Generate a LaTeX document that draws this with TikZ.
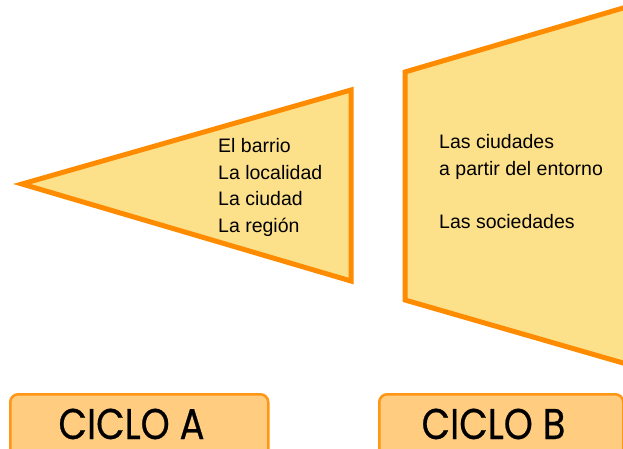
\documentclass[tikz,border=0pt]{standalone}
\usepackage{fontspec}
\setmainfont{Liberation Sans}
\newfontfamily\ciclofont{Poppins}[FakeBold=0.6]
\usepackage{graphicx}
\usetikzlibrary{positioning}

\definecolor{embudoFill}{RGB}{253,225,138}
\definecolor{embudoLine}{RGB}{255,140,0}
\definecolor{cicloFill}{RGB}{255,204,128}
\definecolor{cicloLine}{RGB}{255,150,20}

\begin{document}
\begin{tikzpicture}[
    x=1pt, y=-1pt,
    embudo/.style={draw=embudoLine, fill=embudoFill, line width=5pt, line join=miter},
    lista/.style={align=left, inner sep=0pt, anchor=north west, font=\fontsize{19.5}{26.7}\selectfont},
    ciclo/.style={rectangle, draw=cicloLine, fill=cicloFill, line width=2.5pt, rounded corners=8pt, anchor=north west, inner sep=0pt},
    ciclotxt/.style={inner sep=0pt, anchor=base, text depth=0pt, font=\ciclofont\fontsize{43}{43}\selectfont}
]
    \useasboundingbox (0,0) rectangle (623,449);

    % embudo del ciclo A
    \draw[embudo] (22,184) -- (351,90) -- (351,281) -- cycle;
    % embudo del ciclo B
    \draw[embudo] (630,6) -- (405,72) -- (405,300) -- (630,365);

    \node[lista] (temasA) at (218,138) {El barrio\\La localidad\\La ciudad\\La región};
    \node[lista] (temasB) at (439,134) {Las ciudades\\a partir del entorno\\[26.7pt]Las sociedades};

    % etiquetas de ciclo
    \node[ciclo, minimum width=258pt, minimum height=66pt] (cicloA) at (9,393) {};
    \node[ciclo, minimum width=244pt, minimum height=66pt] (cicloB) at (378,393) {};
    \node[ciclotxt] (txtA) at (131.5,439) {\scalebox{0.86}[1]{CICLO A}};
    \node[ciclotxt] (txtB) at (493.5,439) {\scalebox{0.86}[1]{CICLO B}};
\end{tikzpicture}
\end{document}
